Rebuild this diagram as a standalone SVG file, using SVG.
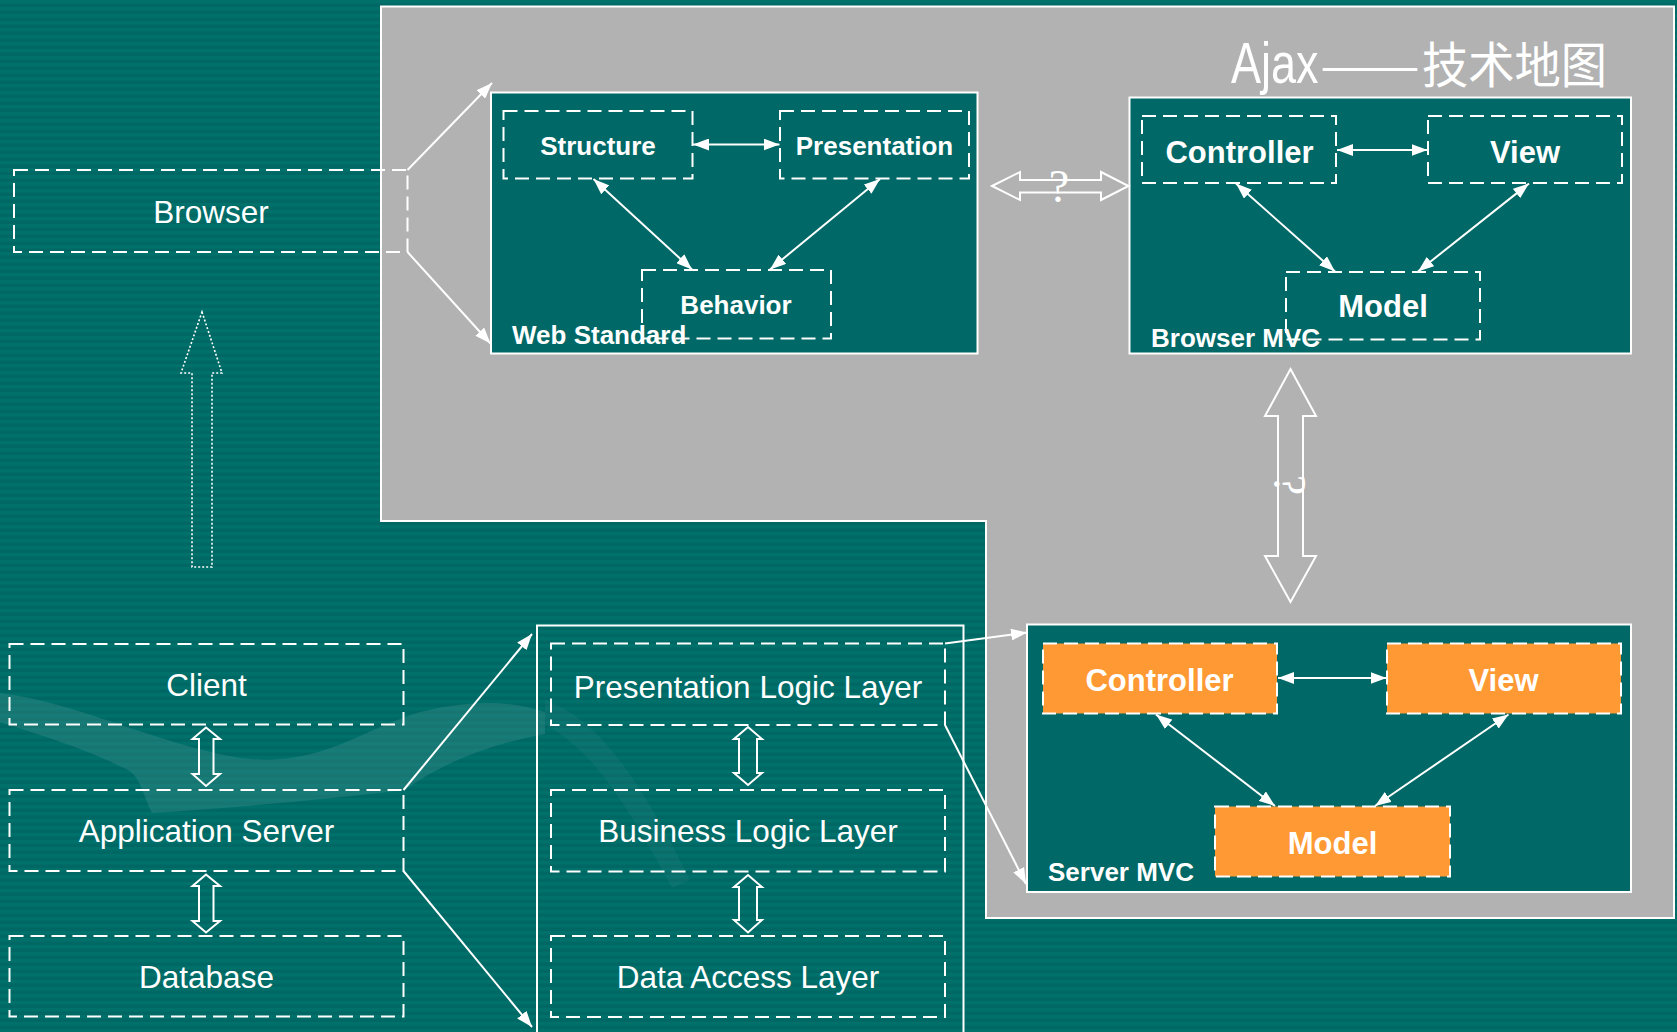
<svg xmlns="http://www.w3.org/2000/svg" width="1677" height="1032" viewBox="0 0 1677 1032">
<defs>
  <pattern id="stripes" width="10" height="7" patternUnits="userSpaceOnUse">
    <rect width="10" height="7" fill="#006864"/>
    <rect width="10" height="3.5" fill="#00706B"/>
  </pattern>
  <marker id="ah" viewBox="0 0 16 12" refX="16" refY="6" markerWidth="16" markerHeight="12" markerUnits="userSpaceOnUse" orient="auto-start-reverse">
    <path d="M0,0 L16,6 L0,12 z" fill="#FFFFFF"/>
  </marker>
</defs>
<style>
  .dash { fill: none; stroke: #FFFFFF; stroke-width: 2; stroke-dasharray: 14 7; }
  .dashO { fill: #FF9933; stroke: #FFFFFF; stroke-width: 2; stroke-dasharray: 14 7; }
  .solid { fill: #006866; stroke: #FFFFFF; stroke-width: 2; }
  .frame { fill: none; stroke: #FFFFFF; stroke-width: 2; }
  .reg { font-family: "Liberation Sans", Arial, sans-serif; font-size: 31.5px; fill: #FFFFFF; text-anchor: middle; }
  .bold { font-family: "Liberation Sans", Arial, sans-serif; font-size: 31px; font-weight: bold; fill: #FFFFFF; text-anchor: middle; }
  .boldS { font-family: "Liberation Sans", Arial, sans-serif; font-size: 26px; font-weight: bold; fill: #FFFFFF; text-anchor: middle; }
  .lbl { font-family: "Liberation Sans", Arial, sans-serif; font-size: 26px; font-weight: bold; fill: #FFFFFF; }
  .q { font-family: "Liberation Serif", "Times New Roman", serif; font-size: 46px; fill: #FFFFFF; text-anchor: middle; }
  .conn { fill: none; stroke: #FFFFFF; stroke-width: 2; }
  .both { marker-start: url(#ah); marker-end: url(#ah); }
  .end { marker-end: url(#ah); }
  .hollow { fill: none; stroke: #FFFFFF; stroke-width: 2; stroke-linejoin: miter; }
  .dotted { fill: none; stroke: #FFFFFF; stroke-width: 1.6; stroke-dasharray: 2 2; }
</style>

<!-- background -->
<rect x="0" y="0" width="1677" height="1032" fill="url(#stripes)"/>
<g id="watermark" fill="#FFFFFF">
  <path d="M0,693 C80,703 150,742 240,758 C320,768 360,730 420,712 C470,700 510,700 545,712 L545,734 C500,742 445,760 405,790 C320,800 230,808 152,813 C142,792 140,777 128,770 C80,746 30,732 0,722 Z" opacity="0.09"/>
  <path d="M545,700 C600,720 640,780 690,880 L672,888 C620,790 585,745 545,725 Z" opacity="0.04"/>
</g>

<!-- gray panel -->
<polygon id="panel" points="381,6.5 1674,6.5 1674,918 986,918 986,521 381,521" fill="#B2B2B2" stroke="#FFFFFF" stroke-width="2"/>

<!-- title -->
<text id="title" transform="matrix(1 0 0 1.28 0 83)" y="0" fill="#FFFFFF"><tspan x="1231" font-size="45" font-family="Liberation Sans, sans-serif">Ajax</tspan><tspan x="1320" y="0" font-size="38" textLength="100" lengthAdjust="spacingAndGlyphs" font-family="Noto Sans CJK SC, sans-serif">——</tspan><tspan x="1422" y="0" font-size="38" textLength="185" lengthAdjust="spacingAndGlyphs" font-family="Noto Sans CJK SC, sans-serif">技术地图</tspan></text>

<!-- left column -->
<g id="browser">
  <rect class="dash" x="14" y="170" width="393.5" height="82"/>
  <text class="reg" x="211" y="222.5">Browser</text>
</g>
<g id="client">
  <rect class="dash" x="9.5" y="644" width="394" height="80.5"/>
  <text class="reg" x="206.5" y="696">Client</text>
</g>
<g id="appserver">
  <rect class="dash" x="9.5" y="790" width="394" height="81"/>
  <text class="reg" x="206.5" y="841.5">Application Server</text>
</g>
<g id="database">
  <rect class="dash" x="9.5" y="936" width="394" height="80.5"/>
  <text class="reg" x="206.5" y="988">Database</text>
</g>

<!-- middle column -->
<g id="tiers">
  <path class="frame" d="M537,1040 L537,625.5 L963.5,625.5 L963.5,1040"/>
</g>
<g id="pll">
  <rect class="dash" x="551" y="643.5" width="394" height="81.5"/>
  <text class="reg" x="748" y="697.5">Presentation Logic Layer</text>
</g>
<g id="bll">
  <rect class="dash" x="551" y="790" width="394" height="81.5"/>
  <text class="reg" x="748" y="842">Business Logic Layer</text>
</g>
<g id="dal">
  <rect class="dash" x="551" y="936" width="394" height="81"/>
  <text class="reg" x="748" y="988">Data Access Layer</text>
</g>

<!-- Web Standard -->
<g id="webstandard">
  <rect class="solid" x="491" y="92.5" width="486.5" height="261"/>
  <text class="lbl" x="512" y="343.5">Web Standard</text>
</g>
<g id="structure">
  <rect class="dash" x="503.5" y="111" width="189" height="67.5"/>
  <text class="boldS" x="598" y="154.5">Structure</text>
</g>
<g id="presentation">
  <rect class="dash" x="780" y="111" width="189" height="67.5"/>
  <text class="boldS" x="874.5" y="154.5">Presentation</text>
</g>
<g id="behavior">
  <rect class="dash" x="642" y="270" width="189" height="68.5"/>
  <text class="boldS" x="736" y="313.5">Behavior</text>
</g>

<!-- Browser MVC -->
<g id="browsermvc">
  <rect class="solid" x="1129.5" y="97.5" width="501.5" height="256"/>
  <text class="lbl" x="1151" y="346.5">Browser MVC</text>
</g>
<g id="bcontroller">
  <rect class="dash" x="1142" y="116" width="194" height="67"/>
  <text class="bold" x="1239.5" y="162.5">Controller</text>
</g>
<g id="bview">
  <rect class="dash" x="1428" y="116" width="194" height="67"/>
  <text class="bold" x="1525" y="162.5">View</text>
</g>
<g id="bmodel">
  <rect class="dash" x="1286" y="272" width="194" height="67.5"/>
  <text class="bold" x="1383" y="317">Model</text>
</g>

<!-- Server MVC -->
<g id="servermvc">
  <rect class="solid" x="1027" y="624.5" width="604" height="267.5"/>
  <text class="lbl" x="1048" y="881">Server MVC</text>
</g>
<g id="scontroller">
  <rect class="dashO" x="1043" y="643.5" width="234" height="70"/>
  <text class="bold" x="1159.5" y="691">Controller</text>
</g>
<g id="sview">
  <rect class="dashO" x="1387" y="643.5" width="234" height="70"/>
  <text class="bold" x="1503.5" y="691">View</text>
</g>
<g id="smodel">
  <rect class="dashO" x="1215" y="806.5" width="235" height="70"/>
  <text class="bold" x="1332.5" y="853.5">Model</text>
</g>

<!-- connectors -->
<g id="connectors">
  <line class="conn end" x1="407.5" y1="170" x2="492" y2="83"/>
  <line class="conn end" x1="407.5" y1="252" x2="490.5" y2="343.5"/>
  <line class="conn both" x1="693" y1="144.5" x2="779.5" y2="144.5"/>
  <line class="conn both" x1="593.5" y1="179" x2="692" y2="269.5"/>
  <line class="conn both" x1="880" y1="179" x2="770" y2="269.5"/>
  <line class="conn both" x1="1337" y1="150" x2="1427.5" y2="150"/>
  <line class="conn both" x1="1236" y1="183.5" x2="1335" y2="271.5"/>
  <line class="conn both" x1="1529" y1="183.5" x2="1418" y2="271.5"/>
  <line class="conn both" x1="1278" y1="678" x2="1386.5" y2="678"/>
  <line class="conn both" x1="1156" y1="714.5" x2="1275" y2="806"/>
  <line class="conn both" x1="1508.5" y1="714.5" x2="1375" y2="806"/>
  <line class="conn end" x1="403.5" y1="790" x2="532" y2="634"/>
  <line class="conn end" x1="403.5" y1="871" x2="532" y2="1027"/>
  <line class="conn end" x1="945" y1="643.5" x2="1027" y2="632.5"/>
  <line class="conn end" x1="945" y1="725" x2="1026" y2="884"/>
  <!-- hollow arrows -->
  <polygon class="dotted" points="202,312 222,373 212,373 212,567 192,567 192,373 181,373"/>
  <polygon class="hollow" points="992,186 1020,172 1020,180 1101,180 1101,172 1128.5,186 1101,200 1101,192.5 1020,192.5 1020,200"/>
  <polygon class="hollow" points="1290.5,369 1316,416 1303,416 1303,556 1316,556 1290.5,602 1265,556 1278,556 1278,416 1265,416"/>
  <polygon class="hollow" points="206,727.5 220,739 213.5,739 213.5,774 220,774 206,786 192.5,774 199,774 199,739 192.5,739"/>
  <polygon class="hollow" points="206,874.5 220,886 213.5,886 213.5,921 220,921 206,932.5 192.5,921 199,921 199,886 192.5,886"/>
  <polygon class="hollow" points="748,727 762,739 757,739 757,773 762,773 748,785 734,773 739,773 739,739 734,739"/>
  <polygon class="hollow" points="748,875 762,887 757,887 757,920 762,920 748,932.5 734,920 739,920 739,887 734,887"/>
  <text class="q" x="1059" y="202">?</text>
  <text class="q" x="0" y="0" transform="translate(1274,485) rotate(90)">?</text>
</g>
</svg>
